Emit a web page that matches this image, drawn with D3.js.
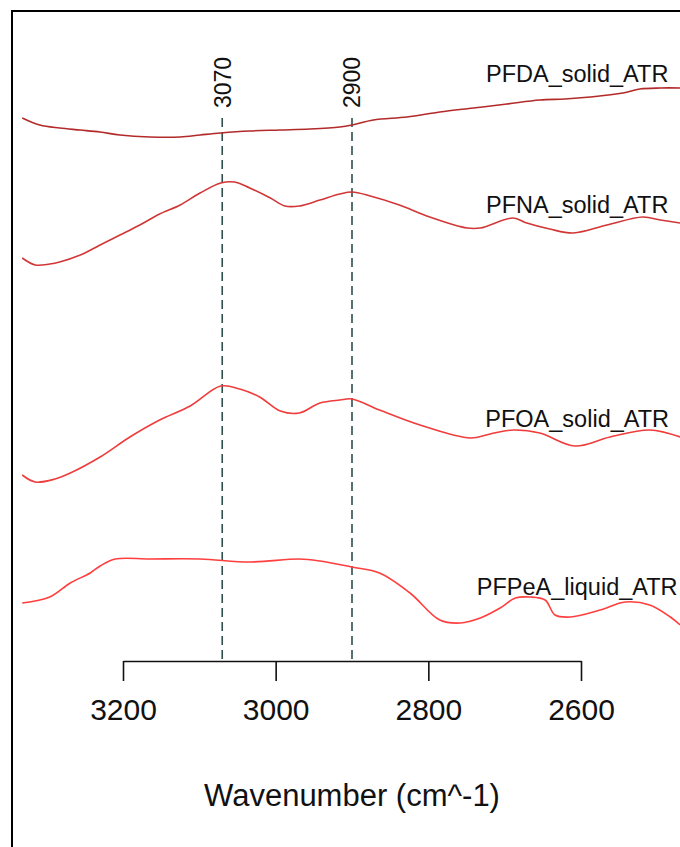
<!DOCTYPE html>
<html>
<head>
<meta charset="utf-8">
<script src="https://cdn.jsdelivr.net/npm/d3@7"></script>
<style>
    body { margin: 0; background: #fff; }
    text { font-family: "Liberation Sans", Arial, sans-serif; fill: #111; }
</style>
</head>
<body>
<div id="spectra"></div>
<script>
// wavenumbers (cm^-1) and stacked absorbance
const wnPFDA = [3332, 3309, 3283, 3256, 3230, 3204, 3165, 3125, 3099, 3072, 3034, 2994, 2955, 2916, 2900, 2872, 2828, 2785, 2741, 2697, 2654, 2621, 2588, 2545, 2523, 2496, 2470];
const absPFDA = [1.086, 1.072, 1.066, 1.062, 1.058, 1.052, 1.048, 1.048, 1.052, 1.056, 1.060, 1.062, 1.064, 1.068, 1.072, 1.082, 1.088, 1.098, 1.106, 1.114, 1.122, 1.124, 1.128, 1.136, 1.144, 1.146, 1.146];

const wnPFNA = [3332, 3315, 3296, 3283, 3256, 3230, 3204, 3178, 3152, 3125, 3099, 3072, 3054, 3034, 3007, 2988, 2969, 2942, 2916, 2900, 2876, 2838, 2798, 2749, 2732, 2689, 2671, 2641, 2610, 2566, 2519, 2496, 2470];
const absPFNA = [0.806, 0.792, 0.794, 0.798, 0.812, 0.832, 0.852, 0.872, 0.894, 0.912, 0.936, 0.956, 0.958, 0.946, 0.926, 0.910, 0.910, 0.922, 0.934, 0.938, 0.930, 0.912, 0.888, 0.866, 0.866, 0.886, 0.876, 0.864, 0.856, 0.872, 0.888, 0.882, 0.876];

const wnPFOA = [3332, 3315, 3289, 3269, 3230, 3191, 3152, 3112, 3072, 3047, 3021, 2994, 2969, 2942, 2916, 2900, 2864, 2811, 2745, 2719, 2689, 2654, 2608, 2562, 2510, 2470];
const absPFOA = [0.372, 0.358, 0.364, 0.376, 0.408, 0.448, 0.482, 0.510, 0.550, 0.544, 0.528, 0.500, 0.496, 0.516, 0.522, 0.524, 0.502, 0.472, 0.446, 0.454, 0.462, 0.456, 0.430, 0.448, 0.462, 0.448];

const wnPFPeA = [3332, 3296, 3269, 3243, 3230, 3210, 3165, 3099, 3034, 2969, 2942, 2900, 2864, 2824, 2785, 2758, 2732, 2706, 2686, 2667, 2647, 2634, 2614, 2575, 2542, 2510, 2483, 2470];
const absPFPeA = [0.116, 0.128, 0.156, 0.176, 0.190, 0.204, 0.204, 0.204, 0.198, 0.204, 0.200, 0.188, 0.176, 0.136, 0.082, 0.076, 0.086, 0.106, 0.126, 0.128, 0.122, 0.092, 0.088, 0.102, 0.118, 0.112, 0.088, 0.072];

const sampleNames = ["PFDA_solid_ATR", "PFNA_solid_ATR", "PFOA_solid_ATR", "PFPeA_liquid_ATR"];
const sampleColors = ["#b32a2a", "#d23636", "#ef3c3c", "#ff3f3f"];
const labelY = [1.174, 0.912, 0.484, 0.148];
const labelWn = 2605;

const markerWn = [3070, 2900];
const xTicks = [3200, 3000, 2800, 2600];

const series = [
    { wn: wnPFDA, abs: absPFDA },
    { wn: wnPFNA, abs: absPFNA },
    { wn: wnPFOA, abs: absPFOA },
    { wn: wnPFPeA, abs: absPFPeA }
];

var width = 680, height = 847;
var axisY = 661;

var svg = d3.select("#spectra")
    .append("svg")
    .attr("width", width)
    .attr("height", height);

// frame around the figure (runs off the right and bottom edge)
svg.append("rect")
    .attr("x", 12)
    .attr("y", 11)
    .attr("width", 700)
    .attr("height", 870)
    .attr("fill", "none")
    .attr("stroke", "#000")
    .attr("stroke-width", 2);

var xScale = d3.scaleLinear()
    .domain([3200, 2600])
    .range([123, 581]);

var yScale = d3.scaleLinear()
    .domain([0, 1.3])
    .range([axisY, 11]);

var line = d3.line()
    .x(d => xScale(d[0]))
    .y(d => yScale(d[1]))
    .curve(d3.curveCatmullRom.alpha(0.5));

// marker lines
svg.append("g")
    .selectAll("line")
    .data(markerWn)
    .enter()
    .append("line")
    .attr("x1", d => xScale(d))
    .attr("x2", d => xScale(d))
    .attr("y1", 118)
    .attr("y2", axisY)
    .attr("stroke", "#2f4f4f")
    .attr("stroke-width", 1.6)
    .attr("stroke-dasharray", "9,5");

svg.append("g")
    .selectAll("text")
    .data(markerWn)
    .enter()
    .append("text")
    .attr("transform", d => `translate(${xScale(d)}, 108) rotate(-90)`)
    .attr("dy", "0.36em")
    .style("font-size", "23px")
    .style("text-anchor", "start")
    .text(d => d);

// spectra
svg.append("g")
    .selectAll("path")
    .data(series)
    .enter()
    .append("path")
    .attr("d", s => line(s.wn.map((w, i) => [w, s.abs[i]])))
    .attr("fill", "none")
    .attr("stroke", (s, i) => sampleColors[i])
    .attr("stroke-width", 1.6);

svg.append("g")
    .selectAll("text")
    .data(sampleNames)
    .enter()
    .append("text")
    .attr("x", xScale(labelWn))
    .attr("y", (d, i) => yScale(labelY[i]))
    .attr("dy", "0.36em")
    .style("font-size", "23.5px")
    .style("text-anchor", "middle")
    .text(d => d);

// x axis
var xAxis = d3.axisBottom(xScale)
    .tickValues(xTicks)
    .tickSize(20)
    .tickSizeOuter(0)
    .tickPadding(18)
    .tickFormat(d3.format("d"));

var xAxisEl = svg.append("g")
    .attr("transform", `translate(0, ${axisY})`)
    .call(xAxis);

xAxisEl.select(".domain").attr("stroke", "#111").attr("stroke-width", 1.6);
xAxisEl.selectAll(".tick line").attr("stroke", "#111").attr("stroke-width", 1.6);
xAxisEl.selectAll(".tick text")
    .style("font-family", '"Liberation Sans", Arial, sans-serif')
    .style("font-size", "30px")
    .attr("fill", "#111");

svg.append("text")
    .attr("x", (123 + 581) / 2)
    .attr("y", 795)
    .attr("dy", "0.36em")
    .style("font-size", "31px")
    .style("text-anchor", "middle")
    .text("Wavenumber (cm^-1)");
</script>
</body>
</html>
